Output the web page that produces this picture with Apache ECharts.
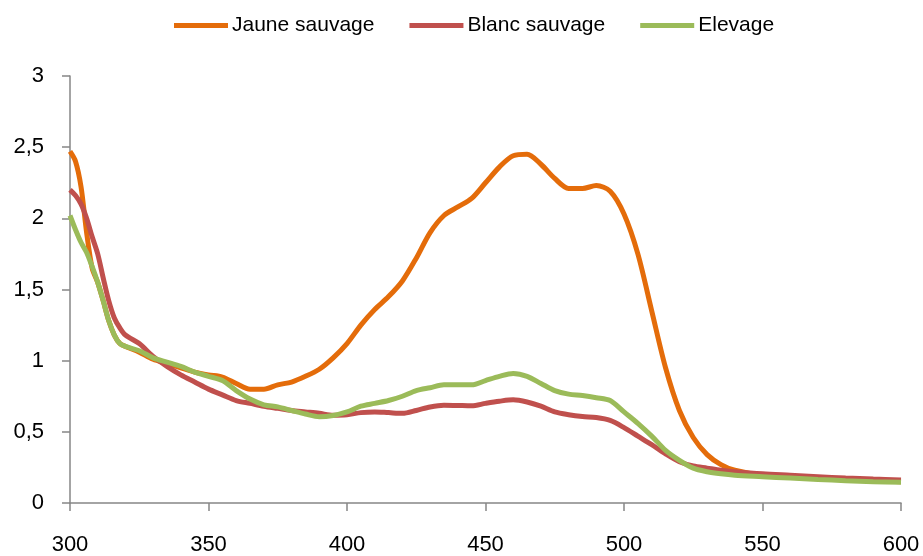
<!DOCTYPE html>
<html>
<head>
<meta charset="utf-8">
<script src="https://cdn.jsdelivr.net/npm/echarts@6/dist/echarts.min.js"></script>
<style>
html,body{margin:0;padding:0;background:#fff;}
#chart{width:923px;height:556px;}
</style>
</head>
<body>
<div id="chart"></div>
<script>
var wavelengths = [300,302,304,306,308,310,312,314,316,318,320,325,330,335,340,345,350,355,360,365,370,375,380,385,390,395,400,405,410,415,420,425,430,435,440,445,450,455,460,465,470,475,480,485,490,495,500,505,510,515,520,525,530,535,540,550,560,570,580,590,600];

var jauneSauvage = [2.47,2.40,2.22,1.90,1.65,1.55,1.42,1.28,1.18,1.12,1.10,1.06,1.01,0.98,0.95,0.92,0.90,0.885,0.84,0.80,0.80,0.83,0.85,0.89,0.94,1.02,1.12,1.25,1.36,1.45,1.56,1.72,1.90,2.02,2.08,2.14,2.25,2.36,2.44,2.45,2.38,2.28,2.21,2.21,2.23,2.19,2.03,1.75,1.35,0.95,0.65,0.46,0.34,0.27,0.23,0.195,0.185,0.175,0.165,0.158,0.15];

var blancSauvage = [2.20,2.16,2.10,2.00,1.87,1.75,1.58,1.42,1.30,1.23,1.18,1.12,1.03,0.96,0.90,0.85,0.80,0.76,0.72,0.70,0.68,0.665,0.65,0.64,0.63,0.617,0.62,0.635,0.64,0.635,0.63,0.65,0.675,0.687,0.685,0.683,0.70,0.715,0.725,0.71,0.68,0.64,0.62,0.607,0.60,0.58,0.53,0.47,0.41,0.345,0.29,0.26,0.245,0.23,0.22,0.205,0.195,0.185,0.175,0.168,0.162];

var elevage = [2.02,1.92,1.83,1.76,1.66,1.55,1.42,1.28,1.18,1.12,1.10,1.07,1.02,0.99,0.96,0.92,0.89,0.86,0.79,0.73,0.69,0.675,0.65,0.625,0.606,0.615,0.64,0.68,0.70,0.72,0.75,0.79,0.81,0.83,0.83,0.83,0.86,0.89,0.91,0.89,0.84,0.79,0.765,0.755,0.74,0.72,0.64,0.56,0.47,0.37,0.30,0.245,0.22,0.205,0.195,0.185,0.175,0.165,0.157,0.15,0.145];

var seriesNames = ['Jaune sauvage','Blanc sauvage','Elevage'];
var seriesValues = [jauneSauvage, blancSauvage, elevage];
var seriesColors = ['#E46C0A','#C0504D','#9BBB59'];

function pairs(vals){
  return wavelengths.map(function(w,i){ return [w, vals[i]]; });
}

var FONT = '"Liberation Sans", Arial, sans-serif';
var chart = echarts.init(document.getElementById('chart'), null, {renderer:'canvas'});
chart.setOption({
  animation:false,
  backgroundColor:'#ffffff',
  legend:{
    data:seriesNames,
    top:10,
    left:169,
    itemWidth:54,
    itemHeight:5,
    itemGap:35,
    icon:'rect',
    textStyle:{fontFamily:FONT,fontSize:21,color:'#000',padding:[0,0,0,-1]}
  },
  grid:{left:70,right:22,top:76,bottom:52},
  xAxis:{
    type:'value',min:300,max:600,interval:50,
    axisLine:{show:true,lineStyle:{color:'#868686',width:1.5}},
    axisTick:{show:true,length:8,lineStyle:{color:'#868686',width:1.5}},
    axisLabel:{fontFamily:FONT,fontSize:22,color:'#000',margin:31},
    splitLine:{show:false}
  },
  yAxis:{
    type:'value',min:0,max:3,interval:0.5,
    axisLine:{show:true,lineStyle:{color:'#868686',width:1.5}},
    axisTick:{show:true,length:8,lineStyle:{color:'#868686',width:1.5}},
    axisLabel:{fontFamily:FONT,fontSize:22,color:'#000',margin:26,
      formatter:function(v){return String(v).replace('.',',');}},
    splitLine:{show:false}
  },
  series:seriesNames.map(function(n,i){
    return {
      name:n,type:'line',data:pairs(seriesValues[i]),
      smooth:0.3,showSymbol:false,symbol:'none',
      lineStyle:{color:seriesColors[i],width:5},
      itemStyle:{color:seriesColors[i]}
    };
  })
});
</script>
</body>
</html>
